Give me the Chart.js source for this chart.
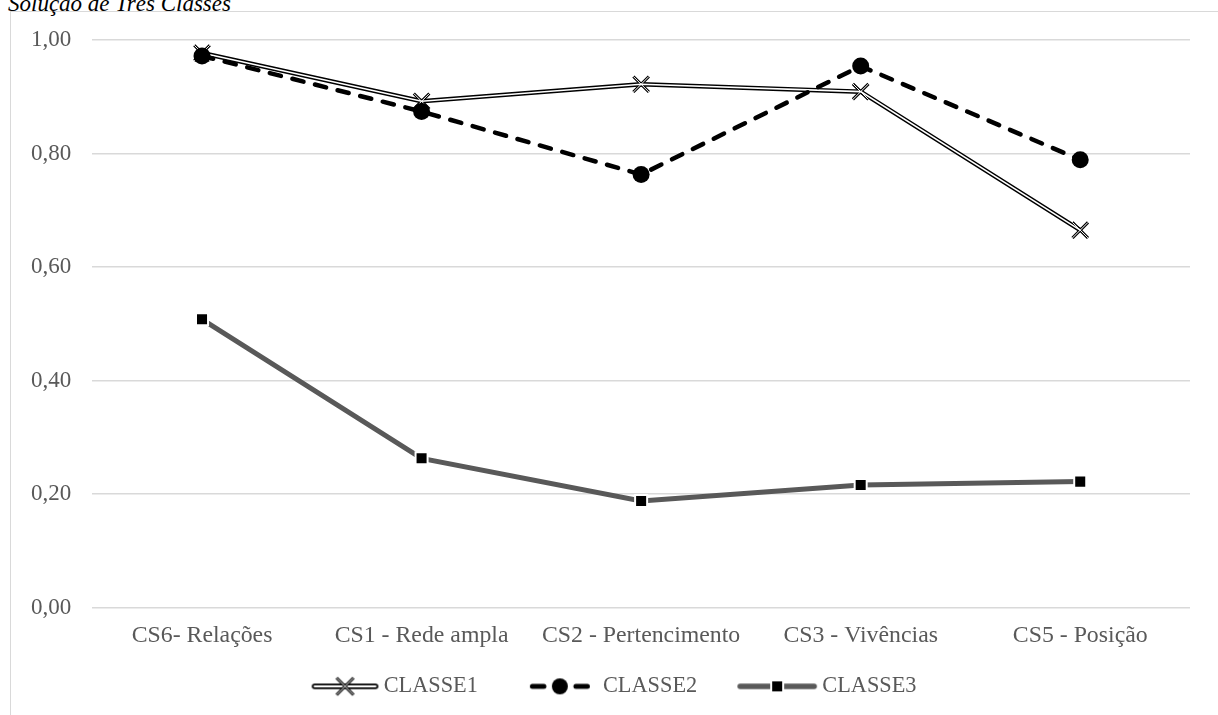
<!DOCTYPE html>
<html>
<head>
<meta charset="utf-8">
<script src="https://cdn.jsdelivr.net/npm/chart.js@4.4.1/dist/chart.umd.min.js"></script>
<style>
  html, body { margin: 0; padding: 0; background: #fff; width: 1218px; height: 715px; overflow: hidden; }
  #frame { position: absolute; left: 10px; top: 11px; width: 1400px; height: 900px; border: 1.5px solid #d9d9d9; }
  #title { position: absolute; left: 8px; top: -8px; font: italic 23px "Liberation Serif", serif; line-height: 23px; color: #000; white-space: nowrap; }
  #wrap { position: absolute; left: 0; top: 0; width: 1218px; height: 715px; }
</style>
</head>
<body>
<div id="frame"></div>
<div id="title">Solução de Três Classes</div>
<div id="wrap"><canvas id="chart"></canvas></div>
<script>
// Categories (x axis)
const categories = ['CS6- Relações', 'CS1 - Rede ampla', 'CS2 - Pertencimento', 'CS3 - Vivências', 'CS5 - Posição'];

// Series values
const classe1 = [0.977, 0.892, 0.922, 0.909, 0.665];
const classe2 = [0.972, 0.874, 0.763, 0.954, 0.789];
const classe3 = [0.508, 0.263, 0.188, 0.216, 0.222];

// Series names
const seriesNames = ['CLASSE1', 'CLASSE2', 'CLASSE3'];

// Y axis ticks
const yTickValues = [0, 0.2, 0.4, 0.6, 0.8, 1.0];
const yTickLabels = ['0,00', '0,20', '0,40', '0,60', '0,80', '1,00'];

const FONT = 'Liberation Serif';
const TEXT_GRAY = '#595959';
const GRID = '#d9d9d9';

// Legend icons: a line sample with the series marker, drawn on small canvases.
// The canvas is centred on the legend box, so it is made wider than the box
// and the sample is drawn flush right, close to the label text.
const ICON_BOX = 103;
const ICON_W = 117;
const ICON_H = 24;

function makeIcon(drawFn) {
  const c = document.createElement('canvas');
  c.width = ICON_W;
  c.height = ICON_H;
  const g = c.getContext('2d');
  drawFn(g, ICON_H / 2);
  return c;
}

function drawCross(g, x, y, r, color, w) {
  const o = r * Math.SQRT1_2;
  g.strokeStyle = color; g.lineWidth = w; g.lineCap = 'butt';
  g.beginPath();
  g.moveTo(x - o, y - o); g.lineTo(x + o, y + o);
  g.moveTo(x - o, y + o); g.lineTo(x + o, y - o);
  g.stroke();
}

const icon1 = makeIcon((g, cy) => {
  const x1 = 52, x2 = 113;
  g.lineCap = 'round';
  g.strokeStyle = '#000'; g.lineWidth = 5.5;
  g.beginPath(); g.moveTo(x1, cy); g.lineTo(x2, cy); g.stroke();
  g.strokeStyle = '#fff'; g.lineWidth = 2;
  g.beginPath(); g.moveTo(x1, cy); g.lineTo(x2, cy); g.stroke();
  const cx = (x1 + x2) / 2;
  drawCross(g, cx, cy, 12, '#000', 3);
  drawCross(g, cx, cy, 12, '#fff', 1);
});

const icon2 = makeIcon((g, cy) => {
  const x1 = 48, x2 = 108;
  g.lineCap = 'round';
  g.strokeStyle = '#000'; g.lineWidth = 5;
  g.beginPath(); g.moveTo(x1 + 2.5, cy); g.lineTo(x1 + 14, cy); g.stroke();
  g.beginPath(); g.moveTo(x2 - 14, cy); g.lineTo(x2 - 2.5, cy); g.stroke();
  g.fillStyle = '#000';
  g.beginPath(); g.arc((x1 + x2) / 2, cy, 8, 0, Math.PI * 2); g.fill();
});

const icon3 = makeIcon((g, cy) => {
  const x1 = 36, x2 = 116;
  g.lineCap = 'round';
  g.strokeStyle = TEXT_GRAY; g.lineWidth = 5.5;
  g.beginPath(); g.moveTo(x1 + 3, cy); g.lineTo(x2 - 3, cy); g.stroke();
  const cx = (x1 + x2) / 2;
  g.fillStyle = '#fff'; g.fillRect(cx - 7, cy - 7, 14, 14);
  g.fillStyle = '#000'; g.fillRect(cx - 5, cy - 5, 10, 10);
});

const legendIcons = [icon1, icon2, icon3];

// Nudges the legend row slightly left of the canvas centre
const legendNudge = {
  id: 'legendNudge',
  afterLayout(chart) {
    if (chart.legend) { chart.legend.left -= 7; chart.legend.right -= 7; }
  }
};

new Chart(document.getElementById('chart'), {
  type: 'line',
  data: {
    labels: categories,
    datasets: [
      {
        label: seriesNames[0],
        data: classe1,
        borderColor: '#000',
        borderWidth: 4.5,
        borderJoinStyle: 'miter',
        pointStyle: 'crossRot',
        pointRadius: 11,
        pointBorderColor: '#000',
        pointBorderWidth: 3,
        tension: 0,
        order: 4
      },
      {
        // white core of the double line
        label: seriesNames[0] + ' core',
        data: classe1,
        borderColor: '#fff',
        borderWidth: 1.6,
        borderJoinStyle: 'miter',
        pointStyle: 'crossRot',
        pointRadius: 11,
        pointBorderColor: '#fff',
        pointBorderWidth: 1,
        tension: 0,
        order: 3
      },
      {
        label: seriesNames[1],
        data: classe2,
        borderColor: '#000',
        borderWidth: 4.5,
        borderDash: [11.5, 11.8],
        borderCapStyle: 'round',
        pointStyle: 'circle',
        pointRadius: 8.5,
        pointBackgroundColor: '#000',
        pointBorderColor: '#000',
        pointBorderWidth: 0,
        tension: 0,
        order: 2
      },
      {
        label: seriesNames[2],
        data: classe3,
        borderColor: TEXT_GRAY,
        borderWidth: 5,
        pointStyle: 'rect',
        pointRadius: 8.5,
        pointBackgroundColor: '#000',
        pointBorderColor: '#fff',
        pointBorderWidth: 2,
        tension: 0,
        order: 1
      }
    ]
  },
  options: {
    responsive: true,
    maintainAspectRatio: false,
    animation: false,
    events: [],
    layout: { padding: { left: 10, right: 28, top: 40, bottom: 7.5 } },
    scales: {
      x: {
        offset: true,
        grid: { display: false, drawTicks: false },
        border: { display: false },
        ticks: {
          color: TEXT_GRAY,
          font: { family: FONT, size: 23.8 },
          padding: 14,
          maxRotation: 0,
          autoSkip: false
        }
      },
      y: {
        min: 0,
        max: 1,
        afterBuildTicks: (axis) => { axis.ticks = yTickValues.map(v => ({ value: v })); },
        grid: { color: GRID, lineWidth: 1.5, drawTicks: false },
        border: { display: false },
        ticks: {
          color: TEXT_GRAY,
          font: { family: FONT, size: 23 },
          padding: 21,
          callback: (v) => yTickLabels[yTickValues.indexOf(v)]
        }
      }
    },
    plugins: {
      tooltip: { enabled: false },
      title: { display: false },
      legend: {
        position: 'bottom',
        labels: {
          usePointStyle: true,
          pointStyleWidth: ICON_BOX,
          padding: 11,
          color: TEXT_GRAY,
          font: { family: FONT, size: 22.3 },
          generateLabels: () => seriesNames.map((name, i) => ({
            text: name,
            pointStyle: legendIcons[i],
            fontColor: TEXT_GRAY,
            fillStyle: 'transparent',
            strokeStyle: 'transparent',
            lineWidth: 0,
            hidden: false,
            datasetIndex: i
          }))
        }
      }
    }
  },
  plugins: [legendNudge]
});
</script>
</body>
</html>
